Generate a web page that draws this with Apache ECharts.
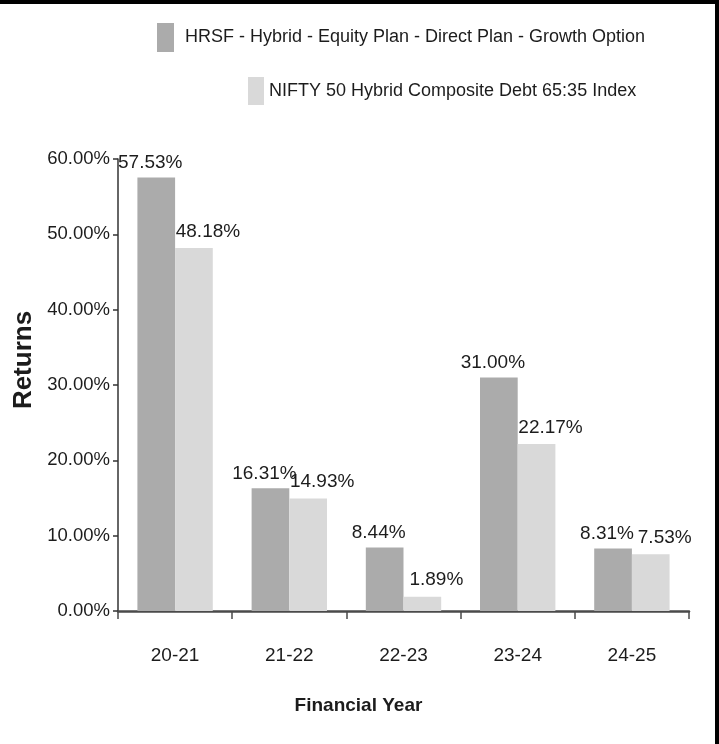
<!DOCTYPE html>
<html>
<head>
<meta charset="utf-8">
<script src="https://cdn.jsdelivr.net/npm/echarts@6/dist/echarts.min.js"></script>
<style>
  html, body { margin: 0; padding: 0; background: #ffffff; }
  #chart { width: 719px; height: 744px; }
</style>
</head>
<body>
<div id="chart"></div>
<script>
// ---- data ----
const categories = ['20-21', '21-22', '22-23', '23-24', '24-25'];
const fundName = 'HRSF - Hybrid - Equity Plan - Direct Plan - Growth Option';
const benchName = 'NIFTY 50 Hybrid Composite Debt 65:35 Index';
const fundReturns = [57.53, 16.31, 8.44, 31.00, 8.31];
const benchReturns = [48.18, 14.93, 1.89, 22.17, 7.53];
const yTicks = { min: 0, max: 60, interval: 10 };
const xAxisTitle = 'Financial Year';
const yAxisTitle = 'Returns';

const FONT = "'Liberation Sans', Arial, sans-serif";
const TEXT = '#1c1c1c';

const chart = echarts.init(document.getElementById('chart'));
const pct = v => (typeof v === 'number' ? v : v.value).toFixed(2) + '%';

chart.setOption({
  backgroundColor: '#ffffff',
  animation: false,
  legend: [
    {
      data: [fundName],
      left: 157, top: 23,
      padding: 0,
      itemWidth: 17, itemHeight: 29,
      icon: 'rect',
      selectedMode: false,
      textStyle: { fontFamily: FONT, fontSize: 18, color: TEXT, padding: [0, 0, 0, 6] }
    },
    {
      data: [benchName],
      left: 248, top: 77,
      padding: 0,
      itemWidth: 16, itemHeight: 28,
      icon: 'rect',
      selectedMode: false,
      textStyle: { fontFamily: FONT, fontSize: 18, color: TEXT }
    }
  ],
  grid: { left: 118, right: 30, top: 159, bottom: 133, containLabel: false },
  xAxis: {
    type: 'category',
    data: categories,
    name: xAxisTitle,
    nameLocation: 'middle',
    nameGap: 85,
    nameTextStyle: { fontFamily: FONT, fontSize: 19, fontWeight: 'bold', color: TEXT, padding: [0, 90, 0, 0] },
    axisLine: { lineStyle: { color: '#4a4a4a', width: 2.5 } },
    axisTick: { show: true, length: 8, lineStyle: { color: '#4a4a4a', width: 1.5 } },
    axisLabel: { fontFamily: FONT, fontSize: 19, color: TEXT, margin: 35 },
    splitLine: { show: false }
  },
  yAxis: {
    type: 'value',
    min: yTicks.min, max: yTicks.max, interval: yTicks.interval,
    name: yAxisTitle,
    nameLocation: 'middle',
    nameGap: 74,
    nameRotate: 90,
    nameTextStyle: { fontFamily: FONT, fontSize: 26, fontWeight: 'bold', color: TEXT, padding: [0, 0, 0, 50] },
    axisLine: { show: true, lineStyle: { color: '#333333', width: 1.5 } },
    axisTick: { show: true, length: 5, lineStyle: { color: '#333333', width: 1.5 } },
    axisLabel: { fontFamily: FONT, fontSize: 18.5, color: TEXT, margin: 8, formatter: v => v.toFixed(2) + '%' },
    splitLine: { show: false }
  },
  series: [
    {
      name: fundName,
      type: 'bar',
      data: fundReturns,
      barGap: '0%',
      barCategoryGap: '34%',
      itemStyle: { color: '#ababab' },
      label: { show: true, position: 'top', distance: 5, offset: [-6, 0], formatter: p => pct(p.value), fontFamily: FONT, fontSize: 19, color: TEXT }
    },
    {
      name: benchName,
      type: 'bar',
      data: benchReturns,
      barGap: '0%',
      barCategoryGap: '34%',
      itemStyle: { color: '#d9d9d9' },
      label: { show: true, position: 'top', distance: 7, offset: [14, 0], formatter: p => pct(p.value), fontFamily: FONT, fontSize: 19, color: TEXT }
    }
  ],
  graphic: [
    { type: 'rect', shape: { x: 0, y: 0, width: 719, height: 4 }, style: { fill: '#000000' }, silent: true },
    { type: 'rect', shape: { x: 715, y: 0, width: 4, height: 744 }, style: { fill: '#000000' }, silent: true }
  ]
});
</script>
</body>
</html>
